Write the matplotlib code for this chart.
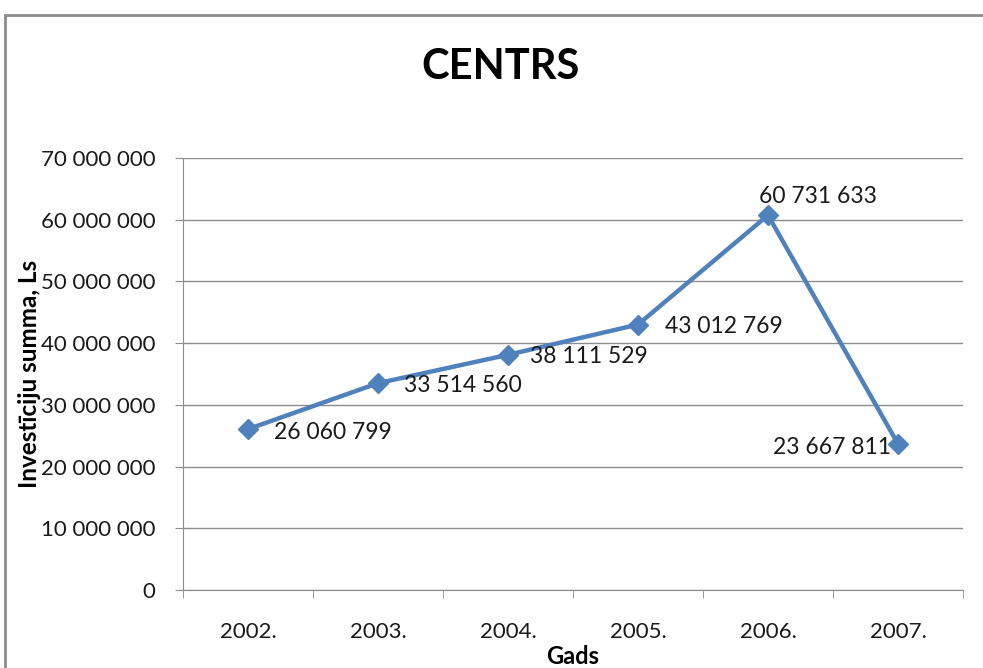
import matplotlib.pyplot as plt
from matplotlib.patches import Rectangle

years = ["2002.", "2003.", "2004.", "2005.", "2006.", "2007."]
invest = [26060799, 33514560, 38111529, 43012769, 60731633, 23667811]
# label placement for each point: (dx px, dy px, ha, va)
lbl_pos = [(26, -3, "left", "center"), (26, -2, "left", "center"),
           (22, -2, "left", "center"), (27, -2, "left", "center"),
           (50, 8, "center", "bottom"), (-7, -4, "right", "center")]
yticks = list(range(0, 70000001, 10000000))

plt.rcParams['font.family'] = ['Lato', 'DejaVu Sans']

def fmt(v):
    return f"{v:,}".replace(",", " ")

fig = plt.figure(figsize=(9.83, 6.68), dpi=100)
ax = fig.add_axes([183/983, 78/668, 780/983, 432/668])

# chart border
fig.patches.append(Rectangle((5/983, -0.1), 1.2, (668-15)/668 + 0.1,
                             transform=fig.transFigure, fill=False,
                             edgecolor="#8c8c8c", linewidth=2))

x = list(range(len(years)))
ax.plot(x, invest, color="#4F81BD", linewidth=3.2, marker="D", markersize=10, zorder=3)

for i, v in enumerate(invest):
    dx, dy, ha, va = lbl_pos[i]
    ax.annotate(fmt(v), (i, v), xytext=(dx * 0.72, dy * 0.72), textcoords="offset points",
                ha=ha, va=va, fontsize=16.5, color="#1a1a1a")

ax.set_xlim(-0.5, 5.5)
ax.set_ylim(0, 70000000)
ax.set_yticks(yticks)
ax.set_yticklabels([fmt(t) for t in yticks], fontsize=16, color="#1a1a1a")
ax.set_xticks(x)
ax.set_xticklabels(years, fontsize=16, color="#1a1a1a")
ax.set_xticks([i - 0.5 for i in range(len(years) + 1)], minor=True)
ax.tick_params(axis="x", which="major", length=0, pad=23)
ax.tick_params(axis="x", which="minor", length=6, color="#8c8c8c", direction="out")
ax.tick_params(axis="y", length=6, color="#8c8c8c", pad=14)

ax.grid(axis="y", color="#8c8c8c", linewidth=1)
ax.set_axisbelow(True)
for s in ["top", "right"]:
    ax.spines[s].set_visible(False)
for s in ["left", "bottom"]:
    ax.spines[s].set_color("#8c8c8c")

fig.text(500/983, 1 - 67/668, "CENTRS", fontsize=30, fontweight="bold",
         ha="center", va="center")
fig.text(573/983, 1 - 656/668, "Gads", fontsize=17, fontweight="bold",
         ha="center", va="center")
fig.text(30/983, 1 - 374/668, "Investīciju summa, Ls", fontsize=17.5, fontweight="bold",
         ha="center", va="center", rotation=90)

fig.savefig("out.png", dpi=100)
